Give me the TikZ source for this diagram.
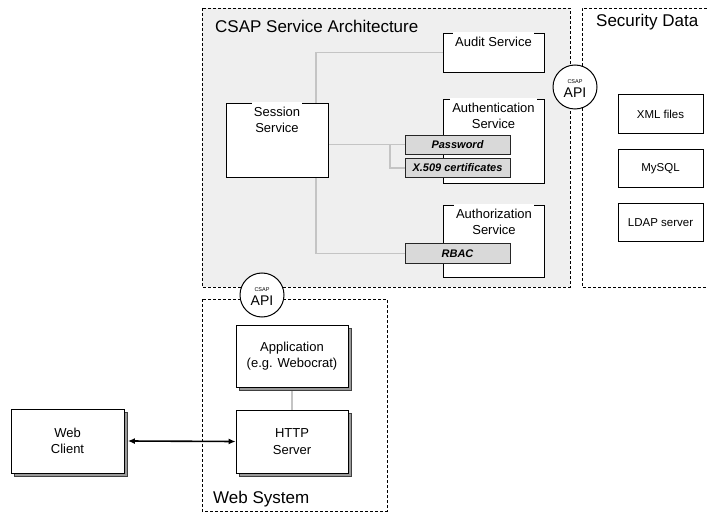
\documentclass[tikz,border=0pt]{standalone}
\usepackage{fontspec}
\setmainfont{Liberation Sans}
\usetikzlibrary{arrows.meta,shadows,backgrounds}
\definecolor{regionfill}{HTML}{EFEFEF}
\definecolor{conn}{HTML}{C4C4C4}
\definecolor{mechfill}{HTML}{D9D9D9}
\begin{document}
\begin{tikzpicture}[x=1pt,y=-1pt,
  region/.style={draw=black, dash pattern=on 3pt off 2pt, line width=0.7pt},
  svcbox/.style={draw=black, fill=white, line width=0.8pt, rectangle, inner sep=0pt},
  svclabel/.style={fill=white, inner xsep=2pt, inner ysep=5pt, align=center, anchor=north,
    font=\fontsize{13}{16}\selectfont},
  mech/.style={draw=black!85, fill=mechfill, line width=0.8pt, minimum width=105pt,
    minimum height=19.5pt, inner sep=0pt, font=\fontsize{11}{13}\selectfont\bfseries\itshape},
  databox/.style={draw=black, fill=white, line width=0.8pt, minimum width=85pt,
    minimum height=38.5pt, inner sep=0pt, font=\fontsize{11.5}{14}\selectfont},
  shbox/.style={draw=black, fill=white, line width=0.8pt, inner sep=0pt, align=center,
    font=\fontsize{13}{16.5}\selectfont,
    copy shadow={shadow xshift=3.5pt, shadow yshift=-3.5pt, fill=black!40, draw=black!75, line width=0.5pt}},
  apinode/.style={circle, draw=black, fill=white, line width=1pt, minimum size=44pt, inner sep=0pt},
  apismall/.style={font=\fontsize{5.5}{6}\selectfont, inner sep=0pt},
  apibig/.style={font=\fontsize{14}{14}\selectfont, inner sep=0pt},
  link/.style={draw=conn, line width=1.5pt},
  arrowlink/.style={draw=black, line width=1.6pt, {Latex[length=7pt,width=6pt]}-{Latex[length=7pt,width=6pt]}},
  title/.style={font=\fontsize{17}{20}\selectfont, anchor=base west, inner sep=0pt}
]
\useasboundingbox (0,0) rectangle (707,513);

% region borders
\draw[region] (202,8) rectangle (570,287);
\draw[region] (712,8) -- (582,8) -- (582,287) -- (712,287);
\draw[region] (202,299) rectangle (387,511);

% titles
\node[title] (t1) at (215,32.5) {CSAP Service Architecture};
\node[title] (t2) at (596,26.5) {Security Data};
\node[title] (t3) at (213,503.5) {Web System};

% services
\node[svcbox, minimum width=102pt, minimum height=74pt] (session) at (277,140) {};
\node[svclabel] (sessionl) at ([yshift=0.5pt]session.north) {Session\\Service};
\node[svcbox, minimum width=101pt, minimum height=39pt] (audit) at (493.5,52.5) {};
\node[svclabel] (auditl) at ([yshift=0.5pt]audit.north) {Audit Service};
\node[svcbox, minimum width=101pt, minimum height=84pt] (authn) at (493.5,141) {};
\node[svclabel] (authnl) at ([yshift=0.5pt]authn.north) {Authentication\\Service};
\node[svcbox, minimum width=101pt, minimum height=72pt] (authz) at (494,241) {};
\node[svclabel] (authzl) at ([yshift=0.5pt]authz.north) {Authorization\\Service};

% mechanisms
\node[mech] (password) at (457.5,144.75) {Password};
\node[mech] (x509) at (457.5,168) {X.509 certificates};
\node[mech] (rbac) at (457.5,253.5) {RBAC};

% security data
\node[databox] (xml) at (660.5,114) {XML files};
\node[databox] (mysql) at (660.5,168.5) {MySQL};
\node[databox] (ldap) at (660.5,222.5) {LDAP server};

% web system
\node[shbox, minimum width=112pt, minimum height=62pt] (app) at (292,356) {Application\\(e.g. Webocrat)};
\node[shbox, minimum width=112pt, minimum height=63pt] (http) at (292,441.5) {HTTP\\Server};
\node[shbox, minimum width=113pt, minimum height=64pt] (client) at (67.5,441) {Web\\Client};

% API circles
\node[apinode] (api1) at (575,87) {};
\node[apismall] (api1s) at ([yshift=5pt]api1.center) {CSAP};
\node[apibig] (api1b) at ([yshift=-5.5pt]api1.center) {API};
\node[apinode] (api2) at (262,295) {};
\node[apismall] (api2s) at ([yshift=5pt]api2.center) {CSAP};
\node[apibig] (api2b) at ([yshift=-5.5pt]api2.center) {API};

% arrow
\draw[arrowlink] ([xshift=3.5pt]client.east) -- (http.west);

% connectors and gray fill underneath
\coordinate (tk) at (316,0);
\coordinate (br) at (390,0);
\begin{pgfonlayer}{background}
\fill[regionfill] (202,8) rectangle (570,287);
\draw[link] (audit.west) -| (tk |- rbac.west) -- (rbac.west);
\draw[link] (session.east |- password.west) -- (password.west);
\draw[link] (br |- password.west) |- (x509.west);
\draw[link] (app.south) -- (http.north);
\end{pgfonlayer}
\end{tikzpicture}
\end{document}
